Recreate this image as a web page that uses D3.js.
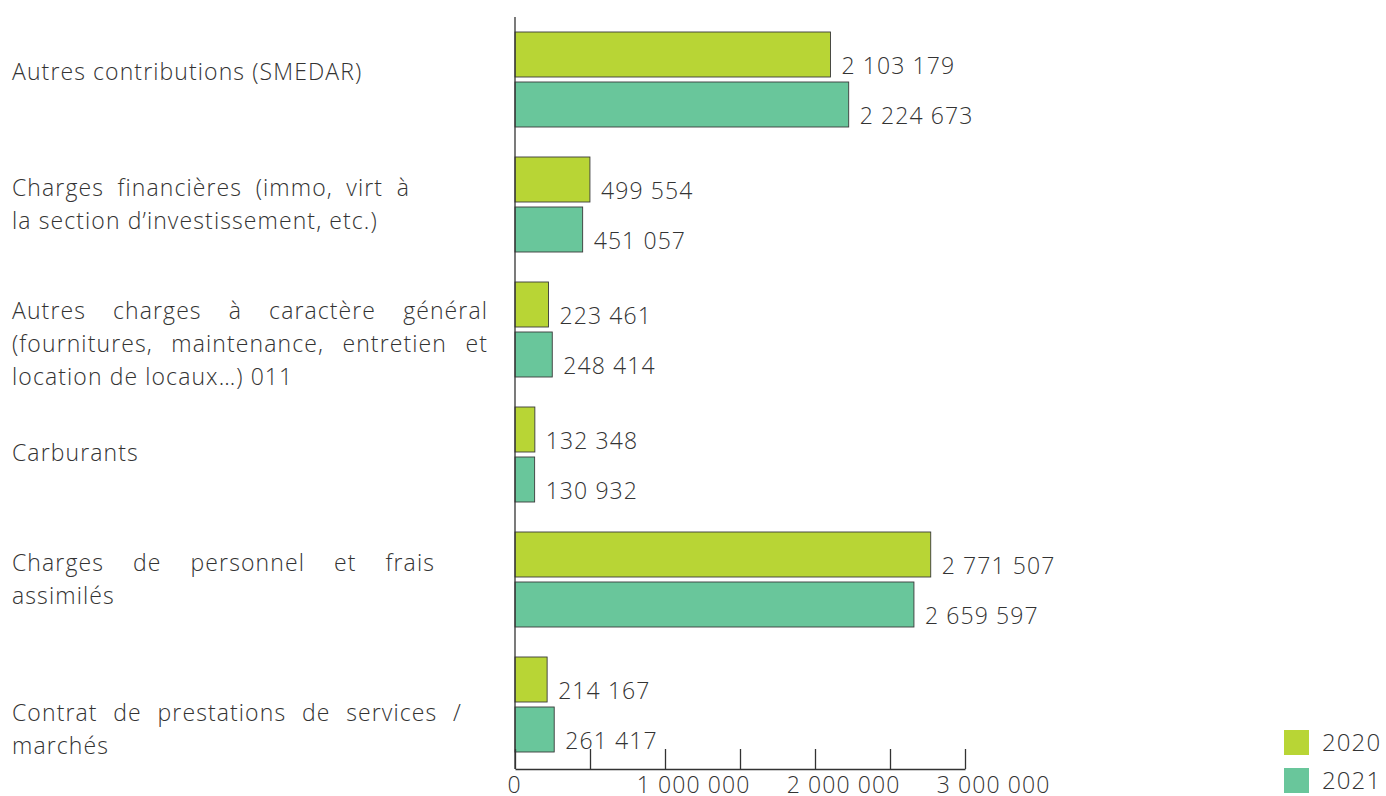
<!DOCTYPE html>
<html>
<head>
<meta charset="utf-8">
<script src="https://cdn.jsdelivr.net/npm/d3@7"></script>
<style>
  body { margin: 0; background: #fff; }
  text { font-family: "Open Sans", sans-serif; font-weight: 300; fill: #333; letter-spacing: 1.1px; }
</style>
</head>
<body>
<script>
// categories, top to bottom, already split into their lines
var categories = [
  "Autres contributions (SMEDAR)",
  "Charges financières",
  "Autres charges à caractère général",
  "Carburants",
  "Charges de personnel",
  "Contrat de prestations"
];
var labelLines = [
  ["Autres contributions (SMEDAR)"],
  ["Charges financières (immo, virt à", "la section d’investissement, etc.)"],
  ["Autres charges à caractère général", "(fournitures, maintenance, entretien et", "location de locaux…) 011"],
  ["Carburants"],
  ["Charges de personnel et frais", "assimilés"],
  ["Contrat de prestations de services /", "marchés"]
];

// series
var years = ["2020", "2021"];
var values2020 = [2103179, 499554, 223461, 132348, 2771507, 214167];
var values2021 = [2224673, 451057, 248414, 130932, 2659597, 261417];

// axis ticks
var tickValues = [0, 500000, 1000000, 1500000, 2000000, 2500000, 3000000];

// text box width used to justify the left labels, and small vertical nudges
var boxWidth = [478, 398, 476, 478, 423, 450];
var labelNudge = [-8, 0, 14, -2, 0, 25];

var colors = { "2020": "#b8d535", "2021": "#69c69b" };

var width = 1386,
    height = 796;

var svg = d3.select('body')
  .append('svg')
  .attr('width', width)
  .attr('height', height);

// scales
var x = d3.scaleLinear()
  .domain([0, 3000000])
  .range([515, 965]);

var y = d3.scaleBand()
  .domain(categories)
  .range([17, 767]);

var ySub = d3.scaleBand()
  .domain(years)
  .range([0, y.bandwidth()])
  .paddingInner(0.1)
  .paddingOuter(0.3);

var fmt = function(d) { return d3.format(",")(d).replace(/,/g, " "); };

// build rows
var rows = [];
categories.forEach(function(c, i) {
  rows.push({ cat: c, year: "2020", value: values2020[i] });
  rows.push({ cat: c, year: "2021", value: values2021[i] });
});

// bars
svg.append('g')
  .selectAll('rect')
  .data(rows)
  .enter()
  .append('rect')
  .attr('x', x(0))
  .attr('y', function(d) { return y(d.cat) + ySub(d.year); })
  .attr('width', function(d) { return x(d.value) - x(0); })
  .attr('height', ySub.bandwidth())
  .attr('fill', function(d) { return colors[d.year]; })
  .attr('stroke', '#3a3a3a')
  .attr('stroke-width', 0.9);

// value labels
svg.append('g')
  .selectAll('text')
  .data(rows)
  .enter()
  .append('text')
  .attr('x', function(d) { return x(d.value) + 11; })
  .attr('y', function(d) { return y(d.cat) + ySub(d.year) + ySub.bandwidth() / 2 + 11; })
  .attr('dy', '0.35em')
  .style('font-size', '23px')
  .text(function(d) { return fmt(d.value); });

// x axis
var xAxis = d3.axisBottom(x)
  .tickValues(tickValues)
  .tickSizeInner(-20)
  .tickSizeOuter(0)
  .tickPadding(8)
  .tickFormat(function(d) { return d % 1000000 === 0 ? fmt(d) : ""; });

var gx = svg.append('g')
  .attr('transform', 'translate(0,769)')
  .call(xAxis);
gx.select('.domain').attr('stroke', '#333').attr('stroke-width', 1.3);
gx.selectAll('.tick line').attr('stroke', '#333').attr('stroke-width', 1.3);
gx.selectAll('.tick text')
  .attr('fill', '#333')
  .attr('dx', function(d) { return d === 0 ? -1 : 28; })
  .style('font-size', '23px')
  .style('font-weight', 300)
  .style('font-family', '"Open Sans", sans-serif');

// y axis line
svg.append('line')
  .attr('x1', x(0)).attr('x2', x(0))
  .attr('y1', 17).attr('y2', 769)
  .attr('stroke', '#333')
  .attr('stroke-width', 1.3);

// category labels, justified like the original text boxes
var lineHeight = 33;
var labelG = svg.append('g');
labelLines.forEach(function(lines, i) {
  var cy = y(categories[i]) + y.bandwidth() / 2 + labelNudge[i];
  var top = cy - (lines.length - 1) * lineHeight / 2;
  lines.forEach(function(line, j) {
    var t = labelG.append('text')
      .attr('x', 12)
      .attr('y', top + j * lineHeight)
      .attr('dy', '0.35em')
      .style('font-size', '23px')
      .text(line);
    // justify every line but the last of a paragraph
    if (j < lines.length - 1) {
      var words = line.split(' ');
      var w = t.node().getComputedTextLength();
      if (words.length > 1 && w < boxWidth[i]) {
        var extra = (boxWidth[i] - w) / (words.length - 1);
        t.attr('word-spacing', extra);
      }
    }
  });
});

// legend
var legend = svg.append('g')
  .selectAll('g')
  .data(years)
  .enter()
  .append('g')
  .attr('transform', function(d, i) { return 'translate(1284,' + (730 + i * 38) + ')'; });

legend.append('rect')
  .attr('width', 25)
  .attr('height', 25)
  .attr('fill', function(d) { return colors[d]; });

legend.append('text')
  .attr('x', 38)
  .attr('y', 13)
  .attr('dy', '0.35em')
  .style('font-size', '24px')
  .text(function(d) { return d; });
</script>
</body>
</html>
